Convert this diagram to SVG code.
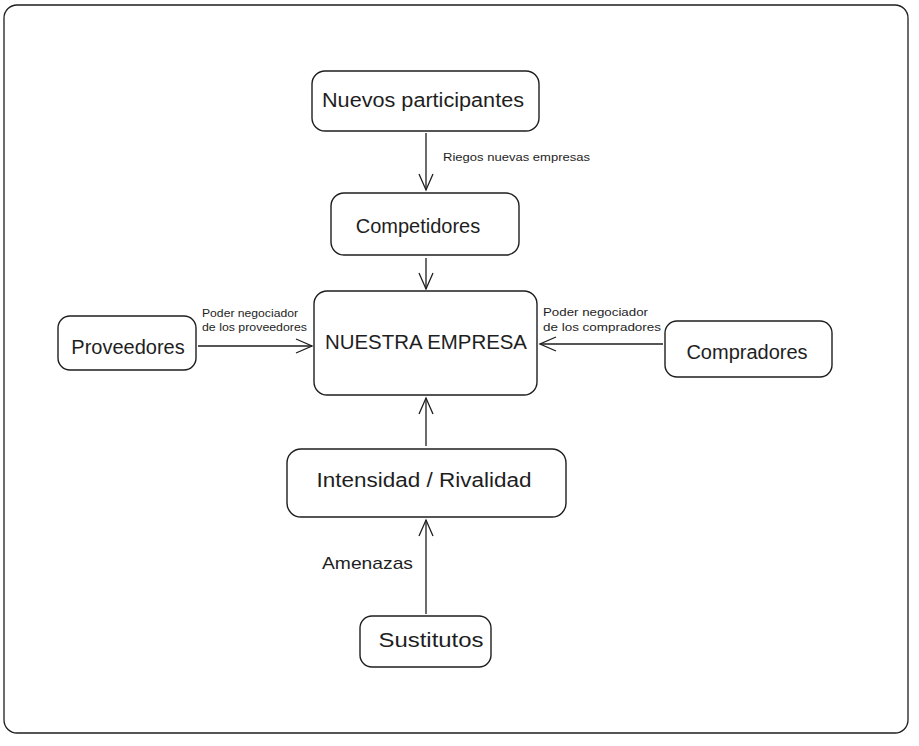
<svg xmlns="http://www.w3.org/2000/svg" width="919" height="746" viewBox="0 0 919 746">
<style>
.box{fill:#fff;stroke:#1e1e1e;stroke-width:1.4}
.t{font-family:"Liberation Sans","DejaVu Sans",sans-serif;fill:#1e1e1e;text-anchor:middle;dominant-baseline:central;font-size:20px}
.lbl{font-family:"Liberation Sans","DejaVu Sans",sans-serif;fill:#1e1e1e;font-size:11.5px}
.edge{stroke:#1e1e1e;stroke-width:1.3;fill:none;marker-end:url(#arr)}
</style>
<defs>
<marker id="arr" viewBox="0 0 20 20" refX="18" refY="10" markerWidth="20" markerHeight="20" markerUnits="userSpaceOnUse" orient="auto">
<path d="M2,3 L18,10 L2,17" fill="none" stroke="#1e1e1e" stroke-width="1.3"/>
</marker>
</defs>
<rect width="919" height="746" fill="#fff"/>
<rect id="frame" x="4" y="5" width="904" height="728" rx="13" fill="#fff" stroke="#1e1e1e" stroke-width="1.3"/>
<g id="connectors">
<path class="edge" d="M426,133 L426,190"/>
<path class="edge" d="M426,258 L426,289"/>
<path class="edge" d="M198,346 L312,346"/>
<path class="edge" d="M663,344 L540,344"/>
<path class="edge" d="M426,446 L426,398"/>
<path class="edge" d="M426,614 L426,520"/>
<text class="lbl" x="443" y="161" textLength="147" lengthAdjust="spacingAndGlyphs">Riegos nuevas empresas</text>
<text class="lbl" x="202" y="317" textLength="96" lengthAdjust="spacingAndGlyphs">Poder negociador</text>
<text class="lbl" x="202" y="331" textLength="105" lengthAdjust="spacingAndGlyphs">de los proveedores</text>
<text class="lbl" x="543" y="316" textLength="105" lengthAdjust="spacingAndGlyphs">Poder negociador</text>
<text class="lbl" x="543" y="331" textLength="118" lengthAdjust="spacingAndGlyphs">de los compradores</text>
<text x="322" y="569" textLength="91" lengthAdjust="spacingAndGlyphs" style="font-family:'Liberation Sans','DejaVu Sans',sans-serif;font-size:17px;fill:#1e1e1e">Amenazas</text>
</g>
<g id="nuevos">
<rect class="box" x="312" y="71" width="227" height="60" rx="13"/>
<text class="t" x="423" y="100" textLength="202" lengthAdjust="spacingAndGlyphs">Nuevos participantes</text>
</g>
<g id="competidores">
<rect class="box" x="331" y="193" width="188" height="62" rx="13"/>
<text class="t" x="418" y="226">Competidores</text>
</g>
<g id="empresa">
<rect class="box" x="314" y="291" width="223" height="104" rx="13"/>
<text class="t" x="426" y="342" textLength="202" lengthAdjust="spacingAndGlyphs">NUESTRA EMPRESA</text>
</g>
<g id="proveedores">
<rect class="box" x="58" y="316" width="138" height="54" rx="12"/>
<text class="t" x="128" y="347">Proveedores</text>
</g>
<g id="compradores">
<rect class="box" x="665" y="321" width="167" height="56" rx="12"/>
<text class="t" x="747" y="352">Compradores</text>
</g>
<g id="intensidad">
<rect class="box" x="287" y="449" width="279" height="68" rx="14"/>
<text class="t" x="424" y="480" textLength="215" lengthAdjust="spacingAndGlyphs">Intensidad / Rivalidad</text>
</g>
<g id="sustitutos">
<rect class="box" x="360" y="616" width="131" height="51" rx="12"/>
<text class="t" x="431" y="640" textLength="105" lengthAdjust="spacingAndGlyphs">Sustitutos</text>
</g>
</svg>
